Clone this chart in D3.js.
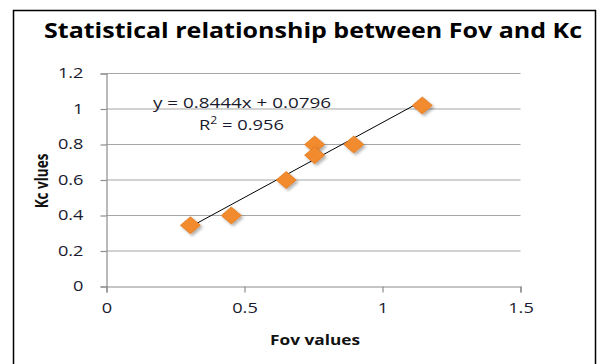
<!DOCTYPE html>
<html><head><meta charset="utf-8">
<script src="https://cdn.jsdelivr.net/npm/d3@7"></script>
<style>body{margin:0;background:#fff}svg{display:block}</style>
</head><body>
<svg id="c" width="600" height="364"></svg>
<script>
const fovValues = [0.304, 0.452, 0.651, 0.754, 0.754, 0.896, 1.144];
const kcValues  = [0.345, 0.40, 0.60, 0.80, 0.74, 0.80, 1.02];
const xTicks = [0, 0.5, 1, 1.5];
const yTicks = [0, 0.2, 0.4, 0.6, 0.8, 1, 1.2];
const slope = 0.8444, intercept = 0.0796;
const titleText = "Statistical relationship between Fov and Kc";
const eqText = "y = 0.8444x + 0.0796";
const r2Value = "0.956";

const svg = d3.select("#c");
const font = "'Open Sans', 'Liberation Sans', sans-serif";
const stretch = 1.3;
function widen(sel, k){
  sel.each(function(){ const w=this.getComputedTextLength(); d3.select(this).attr("textLength", w*k).attr("lengthAdjust","spacingAndGlyphs"); });
}
svg.append("rect").attr("x",13.5).attr("y",10.5).attr("width",582).attr("height",370)
  .attr("fill","#fff").attr("stroke","#000").attr("stroke-width",1.5);

const x = d3.scaleLinear().domain([0,1.5]).range([106.5,520.5]);
const y = d3.scaleLinear().domain([0,1.2]).range([286.5,73.5]);

svg.append("g").selectAll("line").data(yTicks.filter(d=>d>0)).join("line")
  .attr("x1",x(0)).attr("x2",x(1.5)).attr("y1",d=>y(d)).attr("y2",d=>y(d))
  .attr("stroke","#a6a6a6").attr("stroke-width",1.2);

const yAxis = svg.append("g").attr("transform",`translate(${x(0)},0)`)
  .call(d3.axisLeft(y).tickValues(yTicks).tickSize(6).tickPadding(17).tickFormat(d3.format("")));
const xAxis = svg.append("g").attr("transform",`translate(0,${y(0)})`)
  .call(d3.axisBottom(x).tickValues(xTicks).tickSize(6).tickPadding(11).tickFormat(d3.format("")));
[yAxis,xAxis].forEach(a=>{
  a.select(".domain").attr("stroke","#8c8c8c").attr("stroke-width",1.2);
  a.selectAll(".tick line").attr("stroke","#8c8c8c").attr("stroke-width",1.2);
  a.selectAll("text").attr("fill","#1a1a2e").attr("font-family",font).attr("font-size","14px").call(widen, stretch);
});

const xmin = d3.min(fovValues), xmax = d3.max(fovValues);
svg.append("line").attr("x1",x(xmin)).attr("y1",y(slope*xmin+intercept))
  .attr("x2",x(xmax)).attr("y2",y(slope*xmax+intercept))
  .attr("stroke","#000").attr("stroke-width",1);

const defs = svg.append("defs");
const f = defs.append("filter").attr("id","sh").attr("x","-50%").attr("y","-50%").attr("width","200%").attr("height","200%");
f.append("feDropShadow").attr("dx",2).attr("dy",2).attr("stdDeviation",1.5).attr("flood-color","#000").attr("flood-opacity",0.3);

const pts = fovValues.map((v,i)=>({x:v,y:kcValues[i]}));
svg.append("g").selectAll("path").data(pts).join("path")
  .attr("d","M0,-8.5L10,0L0,8.5L-10,0Z")
  .attr("transform",d=>`translate(${x(d.x)},${y(d.y)})`)
  .attr("fill","#f28a2e").attr("stroke","#e07a1f").attr("stroke-width",0.8)
  .attr("filter","url(#sh)");

svg.append("text").attr("x",153).attr("y",108).text(eqText)
  .attr("font-family",font).attr("font-size","15px").attr("fill","#1a1a2e")
  .attr("textLength",178).attr("lengthAdjust","spacingAndGlyphs");
const r2 = svg.append("text").attr("x",199).attr("y",130)
  .attr("font-family",font).attr("font-size","15px").attr("fill","#1a1a2e");
r2.append("tspan").text("R");
r2.append("tspan").attr("dy",-6).attr("font-size","10px").text("2");
r2.append("tspan").attr("dy",6).text(" = " + r2Value);
r2.attr("textLength",85).attr("lengthAdjust","spacingAndGlyphs");

svg.append("text").attr("x",313).attr("y",38).attr("text-anchor","middle").text(titleText)
  .attr("font-family",font).attr("font-size","22px").attr("font-weight","bold").attr("fill","#000")
  .attr("textLength",538).attr("lengthAdjust","spacingAndGlyphs");

svg.append("text").attr("x",315).attr("y",345).attr("text-anchor","middle").text("Fov values")
  .attr("font-family",font).attr("font-size","14px").attr("font-weight","bold").attr("fill","#111")
  .attr("textLength",90).attr("lengthAdjust","spacingAndGlyphs");
svg.append("text").attr("transform","translate(48,181) scale(1.3,1) rotate(-90)").attr("text-anchor","middle").text("Kc vlues")
  .attr("font-family",font).attr("font-size","13.5px").attr("font-weight","bold").attr("fill","#111");
</script>
</body></html>
